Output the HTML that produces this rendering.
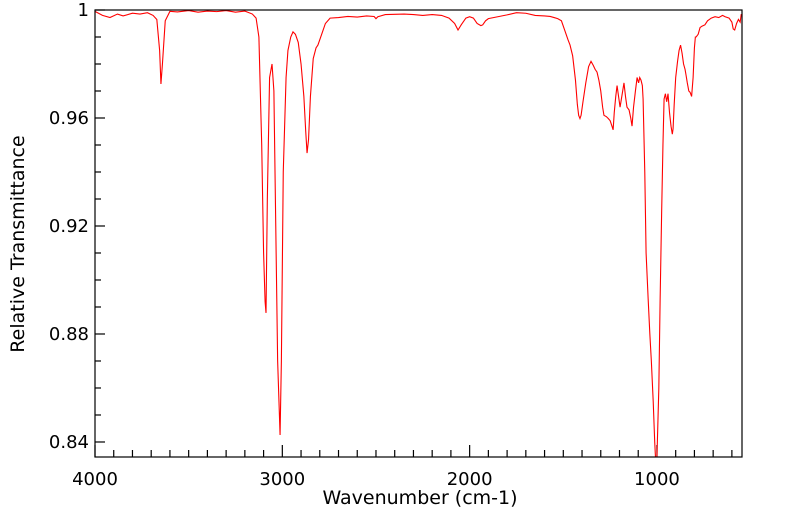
<!DOCTYPE html>
<html><head><meta charset="utf-8"><style>
html,body{margin:0;padding:0;background:#fff;width:799px;height:516px;overflow:hidden}
svg{font-family:"DejaVu Sans","Liberation Sans",sans-serif}
</style></head><body>
<svg id="chart" width="799" height="516" viewBox="0 0 799 516" xmlns="http://www.w3.org/2000/svg">
<g id="axes"></g>
<path id="line" fill="none" stroke="#ff0000" stroke-width="1.1"/>
<rect x="95" y="10" width="647" height="447" fill="none" stroke="#000" stroke-width="1.2"/>
<text x="420" y="504" font-size="19" text-anchor="middle">Wavenumber (cm-1)</text>
<text transform="translate(24,244) rotate(-90)" font-size="19" text-anchor="middle">Relative Transmittance</text>
</svg>
<script>
const wavenumbers=[4000,3960,3920,3880,3850,3800,3760,3720,3690,3670,3655,3648,3640,3625,3600,3560,3500,3450,3400,3350,3300,3250,3200,3160,3140,3125,3110,3100,3092,3087,3080,3068,3055,3045,3035,3025,3012,3005,2995,2980,2970,2955,2943,2930,2915,2900,2885,2875,2868,2860,2850,2835,2820,2810,2790,2770,2745,2700,2650,2600,2550,2510,2500,2490,2450,2400,2350,2300,2250,2200,2150,2110,2080,2062,2045,2020,2000,1980,1960,1940,1930,1915,1900,1850,1800,1750,1700,1650,1600,1570,1549,1530,1510,1490,1475,1464,1450,1435,1425,1418,1411,1405,1395,1380,1365,1352,1340,1330,1320,1310,1300,1290,1283,1270,1260,1250,1245,1238,1234,1228,1220,1213,1205,1197,1190,1183,1176,1168,1160,1149,1140,1133,1125,1115,1106,1098,1092,1085,1078,1074,1065,1058,1047,1038,1030,1020,1012,1008,1000,990,983,975,968,962,955,948,941,933,925,918,914,908,900,890,882,874,866,858,850,845,838,830,823,815,807,800,795,791,780,770,760,744,730,710,690,670,650,636,615,600,593,585,575,565,556,550];
const transmittance=[0.9995,0.998,0.9972,0.9985,0.9978,0.9988,0.9985,0.999,0.998,0.9965,0.985,0.9726,0.980,0.996,0.9995,0.9993,0.9998,0.9992,0.9996,0.9994,0.9998,0.9992,0.9996,0.9985,0.997,0.99,0.95,0.91,0.892,0.8878,0.93,0.975,0.98,0.97,0.92,0.87,0.8426,0.87,0.94,0.975,0.985,0.990,0.9919,0.991,0.988,0.98,0.968,0.955,0.947,0.952,0.968,0.982,0.986,0.987,0.991,0.995,0.997,0.9972,0.9976,0.9974,0.9978,0.9976,0.9968,0.9975,0.9983,0.9984,0.9985,0.9983,0.998,0.9983,0.998,0.997,0.995,0.9926,0.9945,0.997,0.9975,0.997,0.995,0.9942,0.9945,0.996,0.9968,0.9975,0.9982,0.999,0.9988,0.998,0.9978,0.9976,0.9972,0.9968,0.996,0.992,0.989,0.987,0.983,0.974,0.965,0.961,0.9598,0.961,0.966,0.973,0.979,0.981,0.9795,0.978,0.977,0.974,0.970,0.964,0.961,0.9605,0.9598,0.959,0.958,0.9565,0.9556,0.962,0.968,0.972,0.968,0.964,0.967,0.970,0.973,0.968,0.964,0.963,0.960,0.957,0.964,0.970,0.975,0.973,0.975,0.974,0.972,0.967,0.94,0.91,0.893,0.88,0.87,0.855,0.84,0.834,0.834,0.86,0.893,0.925,0.95,0.967,0.969,0.966,0.969,0.962,0.957,0.954,0.956,0.965,0.975,0.981,0.985,0.987,0.984,0.980,0.978,0.976,0.973,0.970,0.9695,0.968,0.975,0.986,0.990,0.990,0.991,0.9935,0.994,0.9945,0.996,0.997,0.9975,0.9972,0.998,0.9975,0.997,0.9955,0.993,0.9926,0.995,0.9965,0.9955,0.9985,0.996];
const yTickVals=[1,0.96,0.92,0.88,0.84];
const yTickLabels=["1","0.96","0.92","0.88","0.84"];
const xTickVals=[4000,3000,2000,1000];
const xTickLabels=["4000","3000","2000","1000"];

const X0=95,X1=742,Y0=10,Y1=457,WMAX=4000,WMIN=546,TMAX=1.0,TMIN=0.83444;
const xs=w=>X0+(WMAX-w)/(WMAX-WMIN)*(X1-X0);
const ys=t=>Y0+(TMAX-t)/(TMAX-TMIN)*(Y1-Y0);
const NS='http://www.w3.org/2000/svg';
const axes=document.getElementById('axes');
function mk(tag,attrs){const e=document.createElementNS(NS,tag);for(const k in attrs)e.setAttribute(k,attrs[k]);return e;}

let d='';
for(let i=0;i<wavenumbers.length;i++){
  const y=Math.min(Y1,Math.max(Y0,ys(transmittance[i])));
  d+=(i?'L':'M')+xs(wavenumbers[i]).toFixed(2)+','+y.toFixed(2);
}
document.getElementById('line').setAttribute('d',d);

for(let w=4000;w>=WMIN;w-=100){
  const major=w%1000===0;
  const x=xs(w);
  const t=mk('line',{x1:x,x2:x,y1:Y1,y2:Y1-(major?12:7),stroke:'#000','stroke-width':1.2});
  
  
  axes.appendChild(t);
}
xTickVals.forEach((v,i)=>{
  const t=mk('text',{x:xs(v),y:485,'font-size':18,'text-anchor':'middle'});
  t.textContent=xTickLabels[i];
  
  
  axes.appendChild(t);
});
for(let k=0;k<=16;k++){
  const v=1-k*0.01;
  const major=k%4===0;
  const y=ys(v);
  const t=mk('line',{x1:X0,x2:X0+(major?10:6),y1:y,y2:y,stroke:'#000','stroke-width':1.2});
  
  
  axes.appendChild(t);
}
yTickVals.forEach((v,i)=>{
  const t=mk('text',{x:89,y:ys(v)+6,'font-size':18,'text-anchor':'end'});
  t.textContent=yTickLabels[i];
  
  
  axes.appendChild(t);
});
</script>
</body></html>
